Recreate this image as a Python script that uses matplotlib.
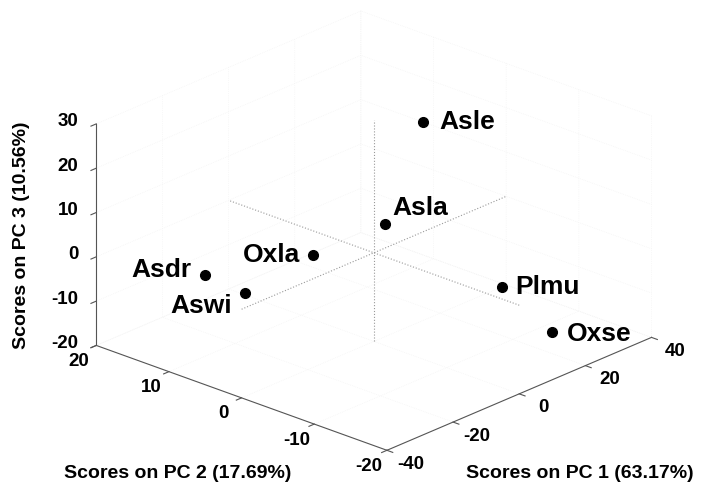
import matplotlib
matplotlib.use('Agg')
import matplotlib.pyplot as plt
from mpl_toolkits.mplot3d import proj3d

names = ['Asdr', 'Aswi', 'Oxla', 'Asla', 'Asle', 'Plmu', 'Oxse']
pc1 = [-30, -25, -15, 5, 20, 20, 25]
pc2 = [9.6, 6.4, 1.6, 0.8, 2.4, -8.5, -13.1]
pc3 = [-1.1, -5.0, 3.4, 4.5, 21.7, -9.0, -18.0]

pc1_ticks = [-40, -20, 0, 20, 40]
pc2_ticks = [-20, -10, 0, 10, 20]
pc3_ticks = [-20, -10, 0, 10, 20, 30]

xlabel = 'Scores on PC 1 (63.17%)'
ylabel = 'Scores on PC 2 (17.69%)'
zlabel = 'Scores on PC 3 (10.56%)'

# label offsets in pixels (dx, dy downwards, alignment)
label_pos = {
    'Asdr': (-13, -5, 'right'),
    'Aswi': (-13, 13, 'right'),
    'Oxla': (-13, 0, 'right'),
    'Asla': (8, -16, 'left'),
    'Asle': (17, 0, 'left'),
    'Plmu': (13, 0, 'left'),
    'Oxse': (15, 2, 'left'),
}

W_PX, H_PX = 701, 487

plt.rcParams['font.family'] = ['Liberation Sans', 'DejaVu Sans']
plt.rcParams['font.weight'] = 'bold'
plt.rcParams['axes.unicode_minus'] = False
plt.rcParams['grid.color'] = '#f2f2f2'
plt.rcParams['grid.linestyle'] = ':'
plt.rcParams['grid.linewidth'] = 0.5

fig = plt.figure(figsize=(W_PX / 100, H_PX / 100), dpi=100)
ax = fig.add_axes([0, 0, 1, 1], projection='3d', proj_type='ortho')
ax.view_init(elev=23.1, azim=-137.4)
ax.set_box_aspect((0.99, 1, 0.61))

xlim, ylim, zlim = (-40, 40), (-20, 20), (-20, 30)
ax.set_xlim(*xlim)
ax.set_ylim(*ylim)
ax.set_zlim(*zlim)
ax.set_xticks(pc1_ticks)
ax.set_yticks(pc2_ticks)
ax.set_zticks(pc3_ticks)
ax.set_xticklabels([])
ax.set_yticklabels([])
ax.set_zticklabels([])
ax.tick_params(colors='#555555')

for a in (ax.xaxis, ax.yaxis, ax.zaxis):
    a.set_pane_color((1, 1, 1, 0))
    a.line.set_color('#555555')
    a.line.set_linewidth(0.8)
    a._axinfo['tick']['inward_factor'] = 0.25
    a._axinfo['tick']['outward_factor'] = 0.0

# dotted lines through the origin
ax.plot(xlim, [0, 0], [0, 0], ls=':', color='#999999', lw=0.8)
ax.plot([0, 0], ylim, [0, 0], ls=':', color='#999999', lw=0.8)
ax.plot([0, 0], [0, 0], zlim, ls=':', color='#999999', lw=0.8)

ax.plot(pc1, pc2, pc3, 'o', color='black', ms=7, ls='none')


def to_px(x, y, z):
    X, Y, _ = proj3d.proj_transform(x, y, z, ax.get_proj())
    px, py = ax.transData.transform((X, Y))
    return px, H_PX - py


# fit the box onto the reference corners
fig.canvas.draw()
corners = [((-40, -20, -20), (387, 450)), ((40, -20, -20), (652, 337)),
           ((-40, 20, -20), (96, 345)), ((-40, 20, 30), (96, 125))]
P = [to_px(*c) for c, _ in corners]
T = [t for _, t in corners]
n = len(P)
pmx = sum(p[0] for p in P) / n
pmy = sum(p[1] for p in P) / n
tmx = sum(t[0] for t in T) / n
tmy = sum(t[1] for t in T) / n
num = sum((p[0] - pmx) * (t[0] - tmx) + (p[1] - pmy) * (t[1] - tmy) for p, t in zip(P, T))
den = sum((p[0] - pmx) ** 2 + (p[1] - pmy) ** 2 for p in P)
s = num / den
offx, offy = tmx - s * pmx, tmy - s * pmy
bb = ax.get_position()
x0, ytop, side = bb.x0 * W_PX, (1 - bb.y1) * H_PX, bb.width * W_PX
nx0, ntop, nside = offx + s * x0, offy + s * ytop, side * s
ax.set_position([nx0 / W_PX, 1 - (ntop + nside) / H_PX, nside / W_PX, nside / H_PX])
fig.canvas.draw()


def fig_text(px, py, txt, **kw):
    fig.text(px / W_PX, 1 - py / H_PX, txt, **kw)


# tick labels, placed like the original software does
for t in pc1_ticks:
    px, py = to_px(t, ylim[0], zlim[0])
    fig_text(px + 24, py + 14, str(t), ha='center', va='center', fontsize=13.5)
for t in pc2_ticks:
    px, py = to_px(xlim[0], t, zlim[0])
    fig_text(px - 18, py + 16, str(t), ha='center', va='center', fontsize=13.5)
for t in pc3_ticks:
    px, py = to_px(xlim[0], ylim[1], t)
    fig_text(px - 18, py - 2, str(t), ha='right', va='center', fontsize=13.5)

for name, x, y, z in zip(names, pc1, pc2, pc3):
    X, Y, _ = proj3d.proj_transform(x, y, z, ax.get_proj())
    dx, dy, ha = label_pos[name]
    ax.annotate(name, xy=(X, Y), xycoords='data', xytext=(dx, -dy),
                textcoords='offset pixels', ha=ha, va='center',
                fontsize=19, fontweight='bold', annotation_clip=False)

fig_text(580, 474, xlabel, ha='center', va='center', fontsize=14)
fig_text(178, 474, ylabel, ha='center', va='center', fontsize=14)
fig_text(22, 235, zlabel, ha='center', va='center', fontsize=14, rotation=90)

fig.savefig('out.png', dpi=100)
